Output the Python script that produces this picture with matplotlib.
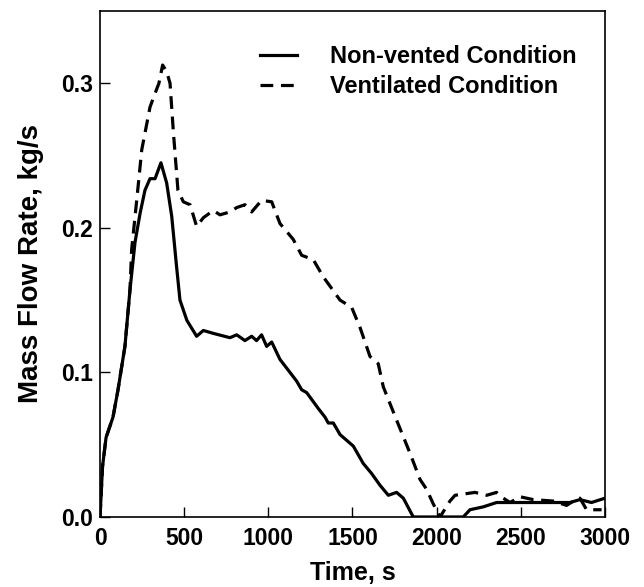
import matplotlib
matplotlib.use("Agg")
import matplotlib.pyplot as plt

# Non-vented condition (solid)
t_nonvent = [0, 15, 36, 77, 107, 148, 178, 208, 238, 267, 297, 327, 362, 396, 426, 455, 475,
             516, 574, 614, 673, 772, 812, 861, 901, 930, 960, 990, 1020, 1069, 1168,
             1198, 1228, 1297, 1337, 1356, 1386, 1426, 1505, 1564, 1614, 1663, 1713, 1762,
             1802, 1861, 2158, 2198, 2277, 2356, 2436, 2535, 2614, 2713, 2792, 2851, 2920, 3000]
q_nonvent = [0, 0.035, 0.055, 0.069, 0.088, 0.118, 0.157, 0.190, 0.210, 0.226, 0.234, 0.234,
             0.245, 0.231, 0.208, 0.173, 0.150, 0.136, 0.125, 0.129, 0.127, 0.124, 0.126,
             0.122, 0.125, 0.122, 0.126, 0.118, 0.121, 0.109, 0.094, 0.088,
             0.086, 0.075, 0.069, 0.065, 0.065, 0.057, 0.049, 0.037, 0.030, 0.022, 0.015,
             0.017, 0.013, 0.0, 0.0, 0.005, 0.007, 0.010, 0.010, 0.010, 0.010, 0.010, 0.010,
             0.012, 0.010, 0.013]

# Ventilated condition (dashed)
t_vent = [0, 15, 36, 77, 107, 148, 178, 188, 218, 248, 297, 327, 350, 372, 396, 416, 436, 463,
          495, 535, 574, 614, 673, 713, 772, 812, 861, 901, 960, 1020, 1069, 1148, 1198,
          1267, 1327, 1426, 1495, 1545, 1604, 1653, 1683, 1762, 1842, 1901, 1941, 1980,
          2020, 2079, 2109, 2168, 2228, 2297, 2356, 2396, 2436, 2495, 2574, 2693, 2772,
          2812, 2851, 2891, 2980]
q_vent = [0, 0.035, 0.055, 0.069, 0.088, 0.118, 0.157, 0.185, 0.219, 0.254, 0.2835, 0.293,
          0.300, 0.3126, 0.308, 0.300, 0.266, 0.226, 0.218, 0.216, 0.201, 0.207, 0.212,
          0.209, 0.211, 0.214, 0.216, 0.211, 0.219, 0.218, 0.203, 0.192, 0.181, 0.178,
          0.166, 0.150, 0.145, 0.131, 0.111, 0.106, 0.090, 0.067, 0.044, 0.026, 0.019,
          0.009, 0.0, 0.011, 0.015, 0.016, 0.017, 0.015, 0.017, 0.013, 0.010, 0.014,
          0.012, 0.011, 0.008, 0.011, 0.013, 0.005, 0.005]

x_ticks = [0, 500, 1000, 1500, 2000, 2500, 3000]
y_ticks = [0.0, 0.1, 0.2, 0.3]

plt.rcParams["font.family"] = ["Liberation Sans", "DejaVu Sans"]
plt.rcParams["font.weight"] = "bold"

fig = plt.figure(figsize=(6.44, 5.87), dpi=100)
ax = fig.add_axes([0.1553, 0.1193, 0.7841, 0.862])

ax.plot(t_nonvent, q_nonvent, "-", color="black", linewidth=2.3,
        label="Non-vented Condition")
ax.plot(t_vent, q_vent, "--", color="black", linewidth=2.3, dashes=(4, 2.4),
        label="Ventilated Condition")

ax.set_xlim(0, 3000)
ax.set_ylim(0, 0.35)
ax.set_xticks(x_ticks)
ax.set_yticks(y_ticks)
ax.set_yticklabels([f"{v:.1f}" for v in y_ticks])
ax.tick_params(direction="in", length=7.5, width=1, labelsize=16.5)
ax.tick_params(axis="x", pad=7)
ax.tick_params(axis="y", pad=5)
for side in ax.spines.values():
    side.set_linewidth(1.2)

ax.set_xlabel("Time, s", fontsize=18, fontweight="bold", labelpad=8.5)
ax.set_ylabel("Mass Flow Rate, kg/s", fontsize=20, fontweight="bold", labelpad=12)

leg = ax.legend(loc="upper right", bbox_to_anchor=(0.985, 0.975), frameon=False,
                fontsize=17, handlelength=1.57, handletextpad=1.36, labelspacing=0.32)
for text in leg.get_texts():
    text.set_fontweight("bold")

fig.savefig("out.png", dpi=100)
